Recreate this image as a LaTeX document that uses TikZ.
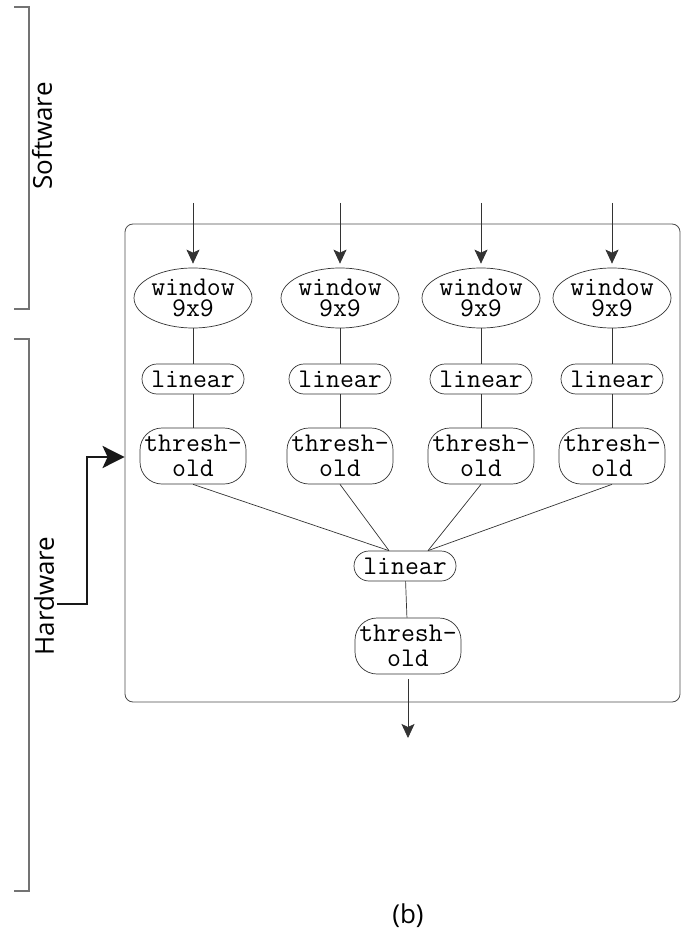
\documentclass[tikz,border=0pt]{standalone}
\usepackage{fontspec}
\setmainfont{Open Sans}
\usetikzlibrary{shapes.geometric,arrows.meta,calc}

\tikzset{
  unit/.style={draw=black!80, line width=0.7pt, inner sep=0pt, align=center,
               font=\ttfamily\fontsize{27}{21}\selectfont},
  winbox/.style={unit, ellipse, minimum width=108pt, minimum height=60pt},
  linbox/.style={unit, rectangle, rounded corners=15pt, minimum width=102pt, minimum height=30pt},
  thrbox/.style={unit, rectangle, rounded corners=22pt, minimum width=106pt, minimum height=56pt,
                 font=\ttfamily\fontsize{27}{25}\selectfont},
  wire/.style={draw=black!80, line width=0.7pt},
  feed/.style={wire, -{Stealth[length=14pt, width=13pt, inset=3pt]}},
  bracket/.style={draw=black!55, line width=1.3pt},
  sidelabel/.style={rotate=90, font=\fontsize{26}{30}\selectfont},
  hwarrow/.style={draw=black!90, line width=2.6pt,
                  -{Stealth[length=22pt, width=22pt, inset=5pt]}}
}

\begin{document}
\begin{tikzpicture}[x=1pt, y=-1pt]
\useasboundingbox (0,0) rectangle (684,933);

% Software / Hardware brackets along the left side
\draw[bracket] (14,7) -- (29,7) -- (29,309) -- (14,309);
\draw[bracket] (14,339) -- (29,339) -- (29,891) -- (14,891);
\node[sidelabel] (sw) at (42,136) {Software};
\node[sidelabel] (hw) at (44,596) {Hardware};

% hardware enclosure
\node[draw=black!70, line width=0.8pt, rounded corners=8pt, minimum width=555pt,
      minimum height=478pt, inner sep=0pt] (box) at (402.5,463) {};

% four parallel branches
\foreach \i/\x in {1/193, 2/340, 3/481, 4/612} {
  \coordinate (in\i) at (\x,203);
  \node[winbox] (w\i) at (\x,298) {window\\9x9};
  \node[linbox] (l\i) at (\x,379) {linear};
  \node[thrbox] (t\i) at (\x,456) {thresh-\\old};
  \draw[feed, shorten >=4pt] (in\i) -- (w\i);
  \draw[wire] (w\i) -- (l\i);
  \draw[wire] (l\i) -- (t\i);
}

% combining stage
\node[linbox] (l5) at (405,566) {linear};
\node[thrbox] (t5) at (408,646) {thresh-\\old};
\coordinate (out) at (408,738);

\draw[wire] (t1.south) -- ($(l5.north)+(-16pt,0)$);
\draw[wire] (t2.south) -- ($(l5.north)+(-16pt,0)$);
\draw[wire] (t3.south) -- ($(l5.north)+(23pt,0)$);
\draw[wire] (t4.south) -- ($(l5.north)+(23pt,0)$);
\draw[wire] (l5) -- (t5);
\draw[feed, shorten <=5pt] (t5.south) -- (out);

% hardware pointer into the enclosure
\coordinate (hwtail) at (57,604);
\coordinate (hwlevel) at (0,457);
\draw[hwarrow] (hwtail) -- (87,604) |- (box.west |- hwlevel);

\node[font=\fontsize{26}{30}\selectfont] (cap) at (408,916) {(b)};
\end{tikzpicture}
\end{document}
